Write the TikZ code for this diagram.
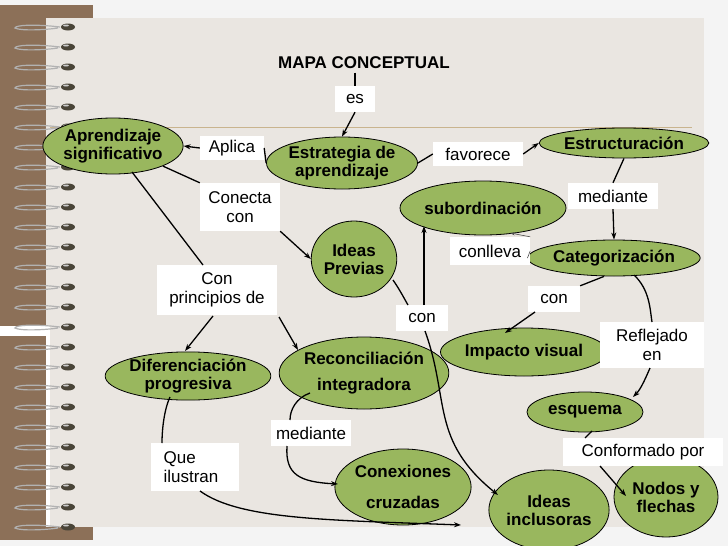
\documentclass[tikz,border=0pt]{standalone}
\usepackage{fontspec}
\setmainfont{Liberation Sans}
\usetikzlibrary{shapes.geometric,arrows.meta}
\definecolor{bg}{HTML}{F4F4F4}
\definecolor{paper}{HTML}{EAE6E1}
\definecolor{brownc}{HTML}{8C7058}
\definecolor{greenc}{HTML}{99B75E}
\definecolor{tanline}{HTML}{C9B48E}
\definecolor{bead}{HTML}{4A4538}
\tikzset{
  concept/.style={ellipse,draw=black,fill=greenc,line width=0.8pt,inner sep=0pt,align=center,font=\fontsize{17}{18}\selectfont\bfseries},
  lab/.style={fill=white,inner sep=0pt,align=center,font=\fontsize{17}{19}\selectfont},
  con/.style={line width=1.3pt},
  arr/.style={line width=1.3pt,-{Stealth[length=7pt,width=5pt]}},
}
\begin{document}
\begin{tikzpicture}[x=1pt,y=-1pt]
\useasboundingbox (0,0) rectangle (728,546);
\fill[bg] (0,0) rectangle (728,546);
\fill[brownc] (0,5) rectangle (93,18);
\fill[brownc] (0,18) rectangle (46,326);
\fill[brownc] (0,336) rectangle (46,540);
\fill[brownc] (46,527) rectangle (93,540);
\fill[paper] (46,18) rectangle (704,527);
\fill[white] (0,326) rectangle (46,336);
\fill[white] (46,326) rectangle (50,527);
\draw[tanline,line width=0.8pt] (50,127) -- (692,127);
\foreach \y in {27,47,...,527}{
  \draw[gray!60,line width=1.2pt] (60,\y) .. controls (35,\y-3) and (15,\y-2) .. (15,\y+1) .. controls (20,\y+4) and (45,\y+3) .. (58,\y+1);
  \fill[bead] (68,\y) ellipse (7pt and 3.5pt);
  \fill[white!60!gray] (66,\y-1.5) ellipse (3pt and 1pt);
}
% nodes
\node[font=\fontsize{17}{19}\selectfont\bfseries] (mapa) at (364,63) {MAPA CONCEPTUAL};
\node[concept,minimum width=128,minimum height=56] (apr) at (113,146) {Aprendizaje\\significativo};
\node[concept,minimum width=118,minimum height=52] (est) at (342,163) {Estrategia de\\aprendizaje};
\node[concept,minimum width=156,minimum height=30] (estr) at (624,143) {Estructuración};
\node[concept,minimum width=166,minimum height=54] (sub) at (483,208) {subordinación};
\node[concept,minimum width=148,minimum height=36] (cat) at (614,258) {Categorización};
\node[concept,minimum width=80,minimum height=76] (prev) at (354,259) {Ideas\\Previas};
\node[concept,minimum width=134,minimum height=48] (imp) at (524,352) {Impacto visual};
\node[concept,minimum width=160,minimum height=48] (dif) at (188,376) {Diferenciación\\progresiva};
\node[concept,minimum width=148,minimum height=72,font=\fontsize{17}{26}\selectfont\bfseries] (rec) at (364,373) {Reconciliación\\integradora};
\node[concept,minimum width=116,minimum height=40] (esq) at (585,412) {\raisebox{-5pt}{esquema}};
\node[concept,minimum width=136,minimum height=76,font=\fontsize{17}{31}\selectfont\bfseries] (cx) at (403,487) {Conexiones\\cruzadas};
\node[concept,minimum width=104,minimum height=80] (inc) at (549,510) {Ideas\\inclusoras};
\node[concept,minimum width=104,minimum height=80] (nod) at (666,497) {Nodos y\\flechas};
% labels
\node[lab,minimum width=40,minimum height=26] (es) at (355,99) {es};
\node[lab,minimum width=64,minimum height=24] (apl) at (232,148) {Aplica};
\node[lab,minimum width=90,minimum height=24] (fav) at (478,154) {favorece};
\node[lab,minimum width=80,minimum height=48] (conec) at (240,207) {Conecta\\con};
\node[lab,minimum width=90,minimum height=26] (med1) at (613,196) {mediante};
\node[lab,minimum width=80,minimum height=28] (conl) at (490,251) {conlleva};
\node[lab,minimum width=120,minimum height=50] (cpd) at (217,290) {Con\\principios de};
\node[lab,minimum width=52,minimum height=26] (con1) at (554,299) {con};
\node[lab,minimum width=52,minimum height=26] (con2) at (422,318) {con};
\node[lab,minimum width=104,minimum height=46] (refl) at (652,345) {Reflejado\\en};
\node[lab,minimum width=80,minimum height=26] (med2) at (311,433) {mediante};
\node[lab,minimum width=88,minimum height=48,align=left] (que) at (195,467) {Que\\ilustran\hspace*{8pt}};
\node[lab,minimum width=160,minimum height=28] (conf) at (643,452) {Conformado por};
\coordinate (qend) at (461,525);
% edges
\draw[con] (mapa.south -| es.north) -- (es.north);
\draw[arr] (es.south) -- (est.north);
\draw[con] (est.west) -- (apl.east);
\draw[arr] (apl.west) -- (apr.east);
\draw[con] (est.east) -- (fav.west);
\draw[arr] (fav.east) -- (estr.west);
\draw[con] (apr.south east) -- (conec.north west);
\draw[arr] (conec.south east) -- (prev.west);
\draw[con] (132,172) -- (203,265);
\draw[arr] (213,316) -- (185,351);
\draw[arr] (279,317) -- (298,350);
\draw[arr] (estr.south) -- (med1.north) (med1.south) -- (cat.north);
\draw[line width=0.6pt,black!70] (cat.west) -- (conl.east);
\draw[line width=0.6pt,black!70,-{Stealth[length=5pt,width=3pt]}] (conl.north east) -- (510,233);
\draw[con] (cat.south) ++(-10,0) -- (con1.north east);
\draw[arr] (535,312) -- (505,333);
\draw[con] (634,275) .. controls (650,290) and (650,310) .. (652,322);
\draw[arr] (650,368) .. controls (644,382) and (640,390) .. (633,397);
\draw[con] (592,431) -- (585,438);
\draw[arr] (600,466) -- (626,496);
\draw[arr] (424,305) -- (424,226);
\draw[con] (393,280) .. controls (400,290) and (405,300) .. (408,305);
\draw[arr] (425,331) .. controls (450,400) and (430,440) .. (498,495);
\draw[con] (310,393) .. controls (296,398) and (290,410) .. (290,420);
\draw[arr] (287,446) .. controls (285,475) and (300,482) .. (338,484);
\draw[con] (170,397) .. controls (164,410) and (162,430) .. (162,443);
\draw[arr] (200,491) .. controls (240,520) and (330,520) .. (qend);
\end{tikzpicture}
\end{document}
